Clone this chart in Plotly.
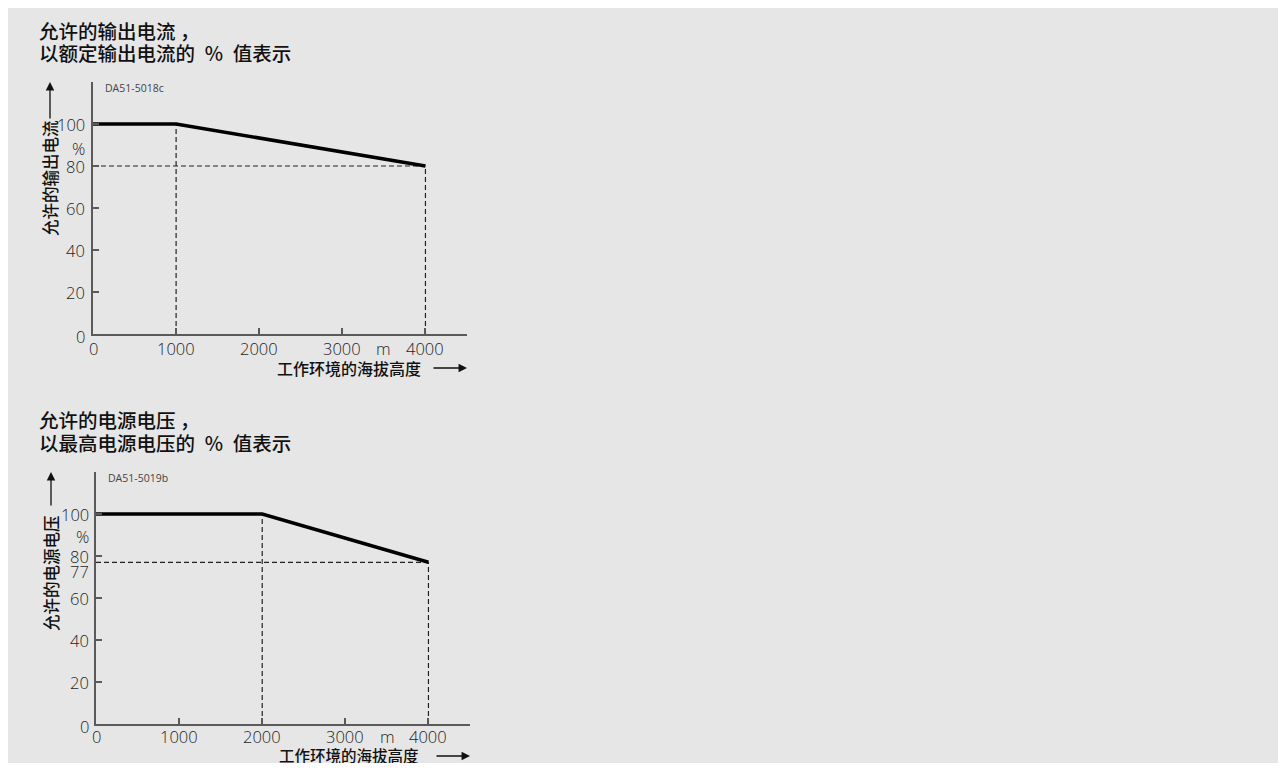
import plotly.graph_objects as go

# ---------------- data ----------------
alt1 = [0, 1000, 4000]
cur1 = [100, 100, 80]
alt2 = [0, 2000, 4000]
volt2 = [100, 100, 77]

yticks1 = [0, 20, 40, 60, 80, 100]
yticks2 = [0, 20, 40, 60, 80, 100]
xticks = [0, 1000, 2000, 3000, 4000]

title1 = ["允许的输出电流 ，", "以额定输出电流的\u2002%\u2002值表示"]
title2 = ["允许的电源电压 ，", "以最高电源电压的\u2002%\u2002值表示"]
ytitle1 = "允许的输出电流"
ytitle2 = "允许的电源电压"
xtitle = "工作环境的海拔高度"
code1 = "DA51-5018c"
code2 = "DA51-5019b"

# figure sits at page offset (8, 8) because of the default body margin
OFF = 8
W, H = 1278, 755


def px(x):
    return (x - OFF) / W


def py(y):
    return 1 - (y - OFF) / H


CJK = "Noto Sans CJK SC"
NUM = "Open Sans"
AXC = "#5a5a5a"
TXC = "#1e1e1e"
TICK = 16.5

fig = go.Figure()


def add_chart(xs, ys, xa, ya):
    kx, ky = xs[1], ys[1]
    ex, ey = xs[-1], ys[-1]
    dash = dict(color="#222", width=1.2, dash="5px,3px")
    fig.add_trace(go.Scatter(x=[kx, kx], y=[0, ky], mode="lines", line=dash,
                             xaxis=xa, yaxis=ya, hoverinfo="skip"))
    fig.add_trace(go.Scatter(x=[0, ex], y=[ey, ey], mode="lines", line=dash,
                             xaxis=xa, yaxis=ya, hoverinfo="skip"))
    fig.add_trace(go.Scatter(x=[ex, ex], y=[0, ey], mode="lines", line=dash,
                             xaxis=xa, yaxis=ya, hoverinfo="skip"))
    fig.add_trace(go.Scatter(x=xs, y=ys, mode="lines",
                             line=dict(color="#000", width=3.5),
                             xaxis=xa, yaxis=ya, hoverinfo="skip"))


add_chart(alt1, cur1, "x", "y")
add_chart(alt2, volt2, "x2", "y2")

axis_common = dict(
    showline=True, linecolor=AXC, linewidth=2, showgrid=False, zeroline=False,
    ticks="inside", ticklen=6, tickwidth=1.5, tickcolor=AXC, automargin=False,
    showticklabels=False, fixedrange=True,
)

fig.update_layout(
    width=W, height=H, margin=dict(l=0, r=0, t=0, b=0),
    paper_bgcolor="#e6e6e6", plot_bgcolor="rgba(0,0,0,0)",
    showlegend=False,
    xaxis=dict(domain=[px(93), px(467)], range=[0, 4500], anchor="y",
               tickvals=xticks, **axis_common),
    yaxis=dict(domain=[py(334), py(82)], range=[0, 120], anchor="x",
               tickvals=yticks1, **axis_common),
    xaxis2=dict(domain=[px(96), px(470)], range=[0, 4500], anchor="y2",
                tickvals=xticks, **axis_common),
    yaxis2=dict(domain=[py(724), py(472)], range=[0, 120], anchor="x2",
                tickvals=yticks2, **axis_common),
)

ann = []


def text(x, y, s, size, family=CJK, color="#111", xanchor="left", angle=0,
         weight=400, xref="paper", yref="paper", yshift=0, yanchor="middle"):
    ann.append(dict(x=x, y=y, xref=xref, yref=yref, text=s, showarrow=False,
                    xanchor=xanchor, yanchor=yanchor, textangle=angle, yshift=yshift,
                    font=dict(family=family, size=size, color=color, weight=weight)))


def arrow(x0, y0, x1, y1):
    ann.append(dict(x=px(x1), y=py(y1), xref="paper", yref="paper",
                    ax=x0 - x1, ay=y0 - y1, axref="pixel", ayref="pixel",
                    text="", showarrow=True, arrowhead=2, arrowsize=1.3,
                    arrowwidth=1.3, arrowcolor="#111"))


def num(x, y, s, xref="paper", yref="paper", yshift=0, xanchor="right"):
    text(x, y, s, TICK, family=NUM, color=TXC, xanchor=xanchor, weight=300,
         xref=xref, yref=yref, yshift=yshift)


# chart 1 texts
text(px(37), py(30), title1[0], 19.5, weight=500)
text(px(37), py(53), title1[1], 19.5, weight=500)
text(px(103), py(88), code1, 10.5, family=NUM, color="#444")
text(px(50), py(178), ytitle1, 16.5, angle=-90, xanchor="center", weight=500)
arrow(50, 120, 50, 82)
text(px(349), py(368), xtitle, 16, xanchor="center", weight=500)
arrow(432, 368, 467, 368)
for v in yticks1:
    num(px(87), v, str(v), yref="y", yshift=-2 if v == 0 else 0)
for v in xticks:
    num(v, py(348), str(v), xref="x", xanchor="center")
num(px(87), py(148), "%")
num(px(383), py(348), "m", xanchor="center")

# chart 2 texts
text(px(37), py(419), title2[0], 19.5, weight=500)
text(px(37), py(443), title2[1], 19.5, weight=500)
text(px(106), py(478), code2, 10.5, family=NUM, color="#444")
text(px(51), py(573), ytitle2, 16.5, angle=-90, xanchor="center", weight=500)
arrow(51, 507, 51, 472)
text(px(349), py(755), xtitle, 15.5, xanchor="center", weight=500)
arrow(435, 756, 470, 756)
for v in yticks2:
    num(px(91), v, str(v), yref="y2", yshift=-2 if v == 0 else 0)
for v in xticks:
    num(v, py(736), str(v), xref="x2", xanchor="center")
num(px(91), py(536), "%")
num(px(387), py(736), "m", xanchor="center")
# the 77 % label sits just below the 80 label
num(px(91), volt2[-1], str(volt2[-1]), yref="y2", yshift=-9)

fig.update_layout(annotations=ann)

fig.write_html("out.html")
